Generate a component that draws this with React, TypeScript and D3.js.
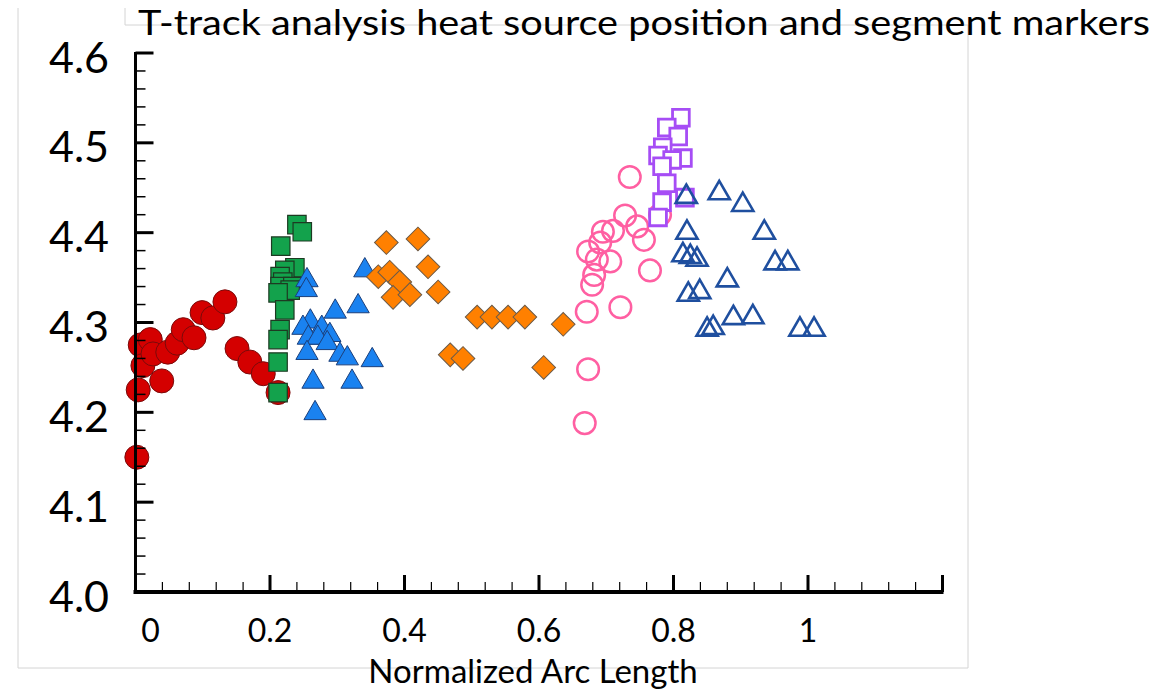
import React from "react";
import * as d3 from "d3";

// ---- data (x = normalized arc length, y = value) ----
const redX = [0.002, 0.004, 0.007, 0.011, 0.022, 0.026, 0.039, 0.048, 0.062, 0.071, 0.087, 0.099, 0.115, 0.133, 0.151, 0.170, 0.190, 0.212];
const redY = [4.150, 4.225, 4.275, 4.252, 4.281, 4.265, 4.235, 4.267, 4.277, 4.292, 4.283, 4.311, 4.305, 4.323, 4.271, 4.256, 4.243, 4.222];

const greenX = [0.240, 0.248, 0.216, 0.237, 0.222, 0.215, 0.219, 0.215, 0.234, 0.230, 0.212, 0.222, 0.215, 0.212, 0.212, 0.212];
const greenY = [4.409, 4.401, 4.385, 4.361, 4.358, 4.351, 4.345, 4.340, 4.340, 4.336, 4.333, 4.314, 4.292, 4.281, 4.256, 4.222];

const blueX = [0.255, 0.254, 0.341, 0.331, 0.297, 0.260, 0.249, 0.277, 0.289, 0.257, 0.271, 0.255, 0.285, 0.304, 0.315, 0.352, 0.264, 0.322, 0.267];
const blueY = [4.347, 4.336, 4.358, 4.318, 4.312, 4.301, 4.294, 4.294, 4.286, 4.283, 4.283, 4.266, 4.277, 4.264, 4.260, 4.258, 4.234, 4.234, 4.199];

const orangeX = [0.373, 0.420, 0.435, 0.361, 0.378, 0.393, 0.383, 0.408, 0.450, 0.508, 0.530, 0.554, 0.579, 0.636, 0.468, 0.487, 0.607];
const orangeY = [4.389, 4.393, 4.362, 4.351, 4.356, 4.345, 4.328, 4.331, 4.334, 4.306, 4.306, 4.306, 4.306, 4.298, 4.264, 4.260, 4.250];

const pinkX = [0.735, 0.728, 0.746, 0.756, 0.710, 0.695, 0.691, 0.673, 0.686, 0.706, 0.682, 0.679, 0.765, 0.671, 0.721, 0.673, 0.668, 0.780];
const pinkY = [4.462, 4.419, 4.407, 4.392, 4.402, 4.401, 4.389, 4.379, 4.370, 4.368, 4.353, 4.342, 4.358, 4.312, 4.317, 4.248, 4.188, 4.420];

const purpleX = [0.811, 0.790, 0.807, 0.784, 0.777, 0.814, 0.798, 0.783, 0.790, 0.783, 0.777, 0.817];
const purpleY = [4.528, 4.517, 4.507, 4.495, 4.486, 4.483, 4.481, 4.474, 4.455, 4.434, 4.417, 4.439];

const navyX = [0.819, 0.868, 0.903, 0.820, 0.935, 0.814, 0.825, 0.835, 0.880, 0.951, 0.970, 0.822, 0.839, 0.850, 0.859, 0.889, 0.918, 0.988, 1.009];
const navyY = [4.440, 4.444, 4.431, 4.400, 4.400, 4.375, 4.373, 4.370, 4.347, 4.366, 4.366, 4.331, 4.334, 4.292, 4.294, 4.305, 4.306, 4.292, 4.292];

const xTicks = [0, 0.2, 0.4, 0.6, 0.8, 1.0, 1.2];
const xTickLabels = ["0", "0.2", "0.4", "0.6", "0.8", "1", ""];
const yTicks = [4.0, 4.1, 4.2, 4.3, 4.4, 4.5, 4.6];
const yTickLabels = ["4.0", "4.1", "4.2", "4.3", "4.4", "4.5", "4.6"];

const title = "T-track analysis heat source position and segment markers";
const xTitle = "Normalized Arc Length";

const FONT = "Lato, 'Open Sans', sans-serif";

export default function App() {
  const W = 1165, H = 693;
  const x = d3.scaleLinear().domain([0, 1.2]).range([135.5, 942.5]);
  const y = d3.scaleLinear().domain([4.0, 4.6]).range([592, 53]);

  const xMinor = d3.range(0, 1.2001, 0.04).filter((v) => Math.abs(v / 0.2 - Math.round(v / 0.2)) > 1e-6);
  const yMinor = d3.range(4.0, 4.6001, 0.02).filter((v) => Math.abs((v - 4) / 0.1 - Math.round((v - 4) / 0.1)) > 1e-6);

  const sq = d3.symbol().type(d3.symbolSquare).size(340)()!;
  const diamond = d3.symbol().type(d3.symbolSquare).size(280)()!;
  const tri = d3.symbol().type(d3.symbolTriangle).size(215)()!;
  const triOpen = d3.symbol().type(d3.symbolTriangle).size(195)()!;
  const sqOpen = d3.symbol().type(d3.symbolSquare).size(280)()!;

  const pts = (xs: number[], ys: number[]) => xs.map((v, i) => [x(v), y(ys[i])] as [number, number]);

  return (
    <svg width={W} height={H} style={{ position: "absolute", left: 0, top: 0, background: "#fff" }}>
      {/* frame */}
      <path d="M125,8 V25 H968 V668 H18 V8" fill="none" stroke="#d4d4d4" strokeWidth={1} />

      {/* title */}
      <text x={138} y={35} fontFamily={FONT} fontSize={35} fill="#000" textLength={1012} lengthAdjust="spacingAndGlyphs">
        {title}
      </text>

      {/* red circles */}
      {pts(redX, redY).map(([cx, cy], i) => (
        <circle key={"r" + i} cx={cx} cy={cy} r={12} fill="#d40000" stroke="#7a0a0a" strokeWidth={1} />
      ))}
      {/* green squares */}
      {pts(greenX, greenY).map(([cx, cy], i) => (
        <path key={"g" + i} d={sq} transform={`translate(${cx},${cy})`} fill="#13a24c" stroke="#1d3a22" strokeWidth={1.2} />
      ))}
      {/* blue triangles */}
      {pts(blueX, blueY).map(([cx, cy], i) => (
        <path key={"b" + i} d={tri} transform={`translate(${cx},${cy})`} fill="#1a82f0" stroke="#1c3f7a" strokeWidth={1} />
      ))}
      {/* orange diamonds */}
      {pts(orangeX, orangeY).map(([cx, cy], i) => (
        <path key={"o" + i} d={diamond} transform={`translate(${cx},${cy}) rotate(45)`} fill="#ff8000" stroke="#6b5a48" strokeWidth={1} />
      ))}
      {/* pink open circles */}
      {pts(pinkX, pinkY).map(([cx, cy], i) => (
        <circle key={"p" + i} cx={cx} cy={cy} r={10.8} fill="none" stroke="#ff5fa2" strokeWidth={2.5} />
      ))}
      {/* purple open squares */}
      {pts(purpleX, purpleY).map(([cx, cy], i) => (
        <path key={"u" + i} d={sqOpen} transform={`translate(${cx},${cy})`} fill="#fff" stroke="#a64df5" strokeWidth={2.8} />
      ))}
      {/* navy open triangles */}
      {pts(navyX, navyY).map(([cx, cy], i) => (
        <path key={"n" + i} d={triOpen} transform={`translate(${cx},${cy})`} fill="none" stroke="#1f4f9f" strokeWidth={2.6} />
      ))}

      {/* y axis */}
      <line x1={x(0)} x2={x(0)} y1={y(4.6) - 1} y2={y(4.0)} stroke="#000" strokeWidth={3} />
      {yTicks.map((t) => (
        <line key={"yt" + t} x1={x(0)} x2={x(0) + 18} y1={y(t)} y2={y(t)} stroke="#000" strokeWidth={3} />
      ))}
      {yMinor.map((t) => (
        <line key={"ym" + t} x1={x(0)} x2={x(0) + 10} y1={y(t)} y2={y(t)} stroke="#000" strokeWidth={1.5} />
      ))}
      {yTicks.map((t, i) => (
        <text key={"yl" + t} x={109} y={y(t) + 3} textAnchor="end" dominantBaseline="central" fontFamily={FONT} fontSize={43} fill="#000">
          {yTickLabels[i]}
        </text>
      ))}

      {/* x axis */}
      <line x1={x(0) - 2} x2={x(1.2) + 1} y1={y(4.0)} y2={y(4.0)} stroke="#000" strokeWidth={4} />
      {xTicks.map((t) => (
        <line key={"xt" + t} x1={x(t)} x2={x(t)} y1={y(4.0)} y2={y(4.0) - 17} stroke="#000" strokeWidth={3} />
      ))}
      {xMinor.map((t) => (
        <line key={"xm" + t} x1={x(t)} x2={x(t)} y1={y(4.0)} y2={y(4.0) - 10} stroke="#000" strokeWidth={1.2} />
      ))}
      {xTicks.map((t, i) => (
        <text key={"xl" + t} x={x(t) + (t === 0 ? 15 : 0)} y={642} textAnchor="middle" fontFamily={FONT} fontSize={32} fill="#000">
          {xTickLabels[i]}
        </text>
      ))}
      <text x={533} y={683} textAnchor="middle" fontFamily={FONT} fontSize={33} fill="#000">
        {xTitle}
      </text>
    </svg>
  );
}
